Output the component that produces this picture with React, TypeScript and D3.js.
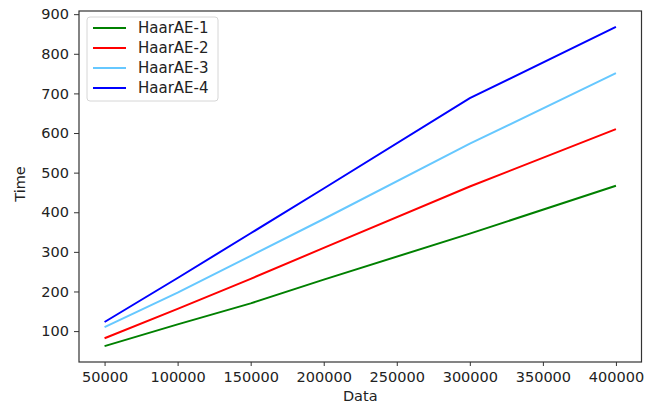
import { useEffect, useRef } from "react";
import * as d3 from "d3";

const dataSizes = [50000, 100000, 150000, 200000, 300000, 400000];
const haar1 = [62, 117, 170, 230, 346, 467];
const haar2 = [82, 156, 232, 310, 465, 610];
const haar3 = [110, 197, 290, 383, 573, 751];
const haar4 = [123, 234, 347, 460, 688, 868];
const xTicks = [50000, 100000, 150000, 200000, 250000, 300000, 350000, 400000];
const yTicks = [100, 200, 300, 400, 500, 600, 700, 800, 900];

const series = [
  { label: "HaarAE-1", color: "#008000", values: haar1 },
  { label: "HaarAE-2", color: "#ff0000", values: haar2 },
  { label: "HaarAE-3", color: "#66c8ff", values: haar3 },
  { label: "HaarAE-4", color: "#0000ff", values: haar4 },
];

const W = 656;
const H = 406;
const FONT = "'DejaVu Sans', sans-serif";
const FS = 14.5;

export default function App() {
  const svgRef = useRef<SVGSVGElement>(null);

  useEffect(() => {
    const svg = d3.select(svgRef.current);
    svg.selectAll("*").remove();

    const margin = { top: 11, right: 14.5, bottom: 44, left: 79 };
    const innerW = W - margin.left - margin.right;
    const innerH = H - margin.top - margin.bottom;

    const x = d3.scaleLinear().domain([32500, 417500]).range([0, innerW]);
    const y = d3.scaleLinear().domain([22, 908]).range([innerH, 0]);

    const g = svg.append("g").attr("transform", `translate(${margin.left},${margin.top})`);

    const line = d3
      .line<number>()
      .x((_, i) => x(dataSizes[i]))
      .y((v) => y(v));

    series.forEach((s) => {
      g.append("path")
        .datum(s.values)
        .attr("fill", "none")
        .attr("stroke", s.color)
        .attr("stroke-width", 2)
        .attr("d", line);
    });

    const xAxis = g
      .append("g")
      .attr("transform", `translate(0,${innerH})`)
      .call(d3.axisBottom(x).tickValues(xTicks).tickFormat(d3.format("d")).tickSize(4).tickPadding(6));
    const yAxis = g
      .append("g")
      .call(d3.axisLeft(y).tickValues(yTicks).tickFormat(d3.format("d")).tickSize(5).tickPadding(5));

    [xAxis, yAxis].forEach((a) => {
      a.select(".domain").remove();
      a.selectAll("line").attr("stroke", "#333");
      a.selectAll("text").attr("font-family", FONT).attr("font-size", FS).attr("fill", "#222");
    });

    g.append("rect")
      .attr("width", innerW)
      .attr("height", innerH)
      .attr("fill", "none")
      .attr("stroke", "#333")
      .attr("stroke-width", 1.2);

    svg
      .append("text")
      .attr("x", margin.left + innerW / 2)
      .attr("y", 401)
      .attr("text-anchor", "middle")
      .attr("font-family", FONT)
      .attr("font-size", FS)
      .attr("fill", "#222")
      .text("Data");

    svg
      .append("text")
      .attr("transform", `translate(25,184) rotate(-90)`)
      .attr("text-anchor", "middle")
      .attr("font-family", FONT)
      .attr("font-size", FS)
      .attr("fill", "#222")
      .text("Time");

    const legend = svg.append("g").attr("transform", "translate(87,17)");
    legend
      .append("rect")
      .attr("width", 131)
      .attr("height", 84)
      .attr("rx", 3)
      .attr("fill", "white")
      .attr("fill-opacity", 0.8)
      .attr("stroke", "#d6d6d6");
    series.forEach((s, i) => {
      const row = legend.append("g").attr("transform", `translate(0,${11 + i * 20})`);
      row
        .append("line")
        .attr("x1", 6)
        .attr("x2", 39)
        .attr("stroke", s.color)
        .attr("stroke-width", 2);
      row
        .append("text")
        .attr("x", 51)
        .attr("dy", "0.35em")
        .attr("font-family", FONT)
        .attr("font-size", 15)
        .attr("fill", "#222")
        .text(s.label);
    });
  }, []);

  return (
    <svg
      ref={svgRef}
      width={W}
      height={H}
      style={{ display: "block", position: "absolute", top: 0, left: 0 }}
    />
  );
}
